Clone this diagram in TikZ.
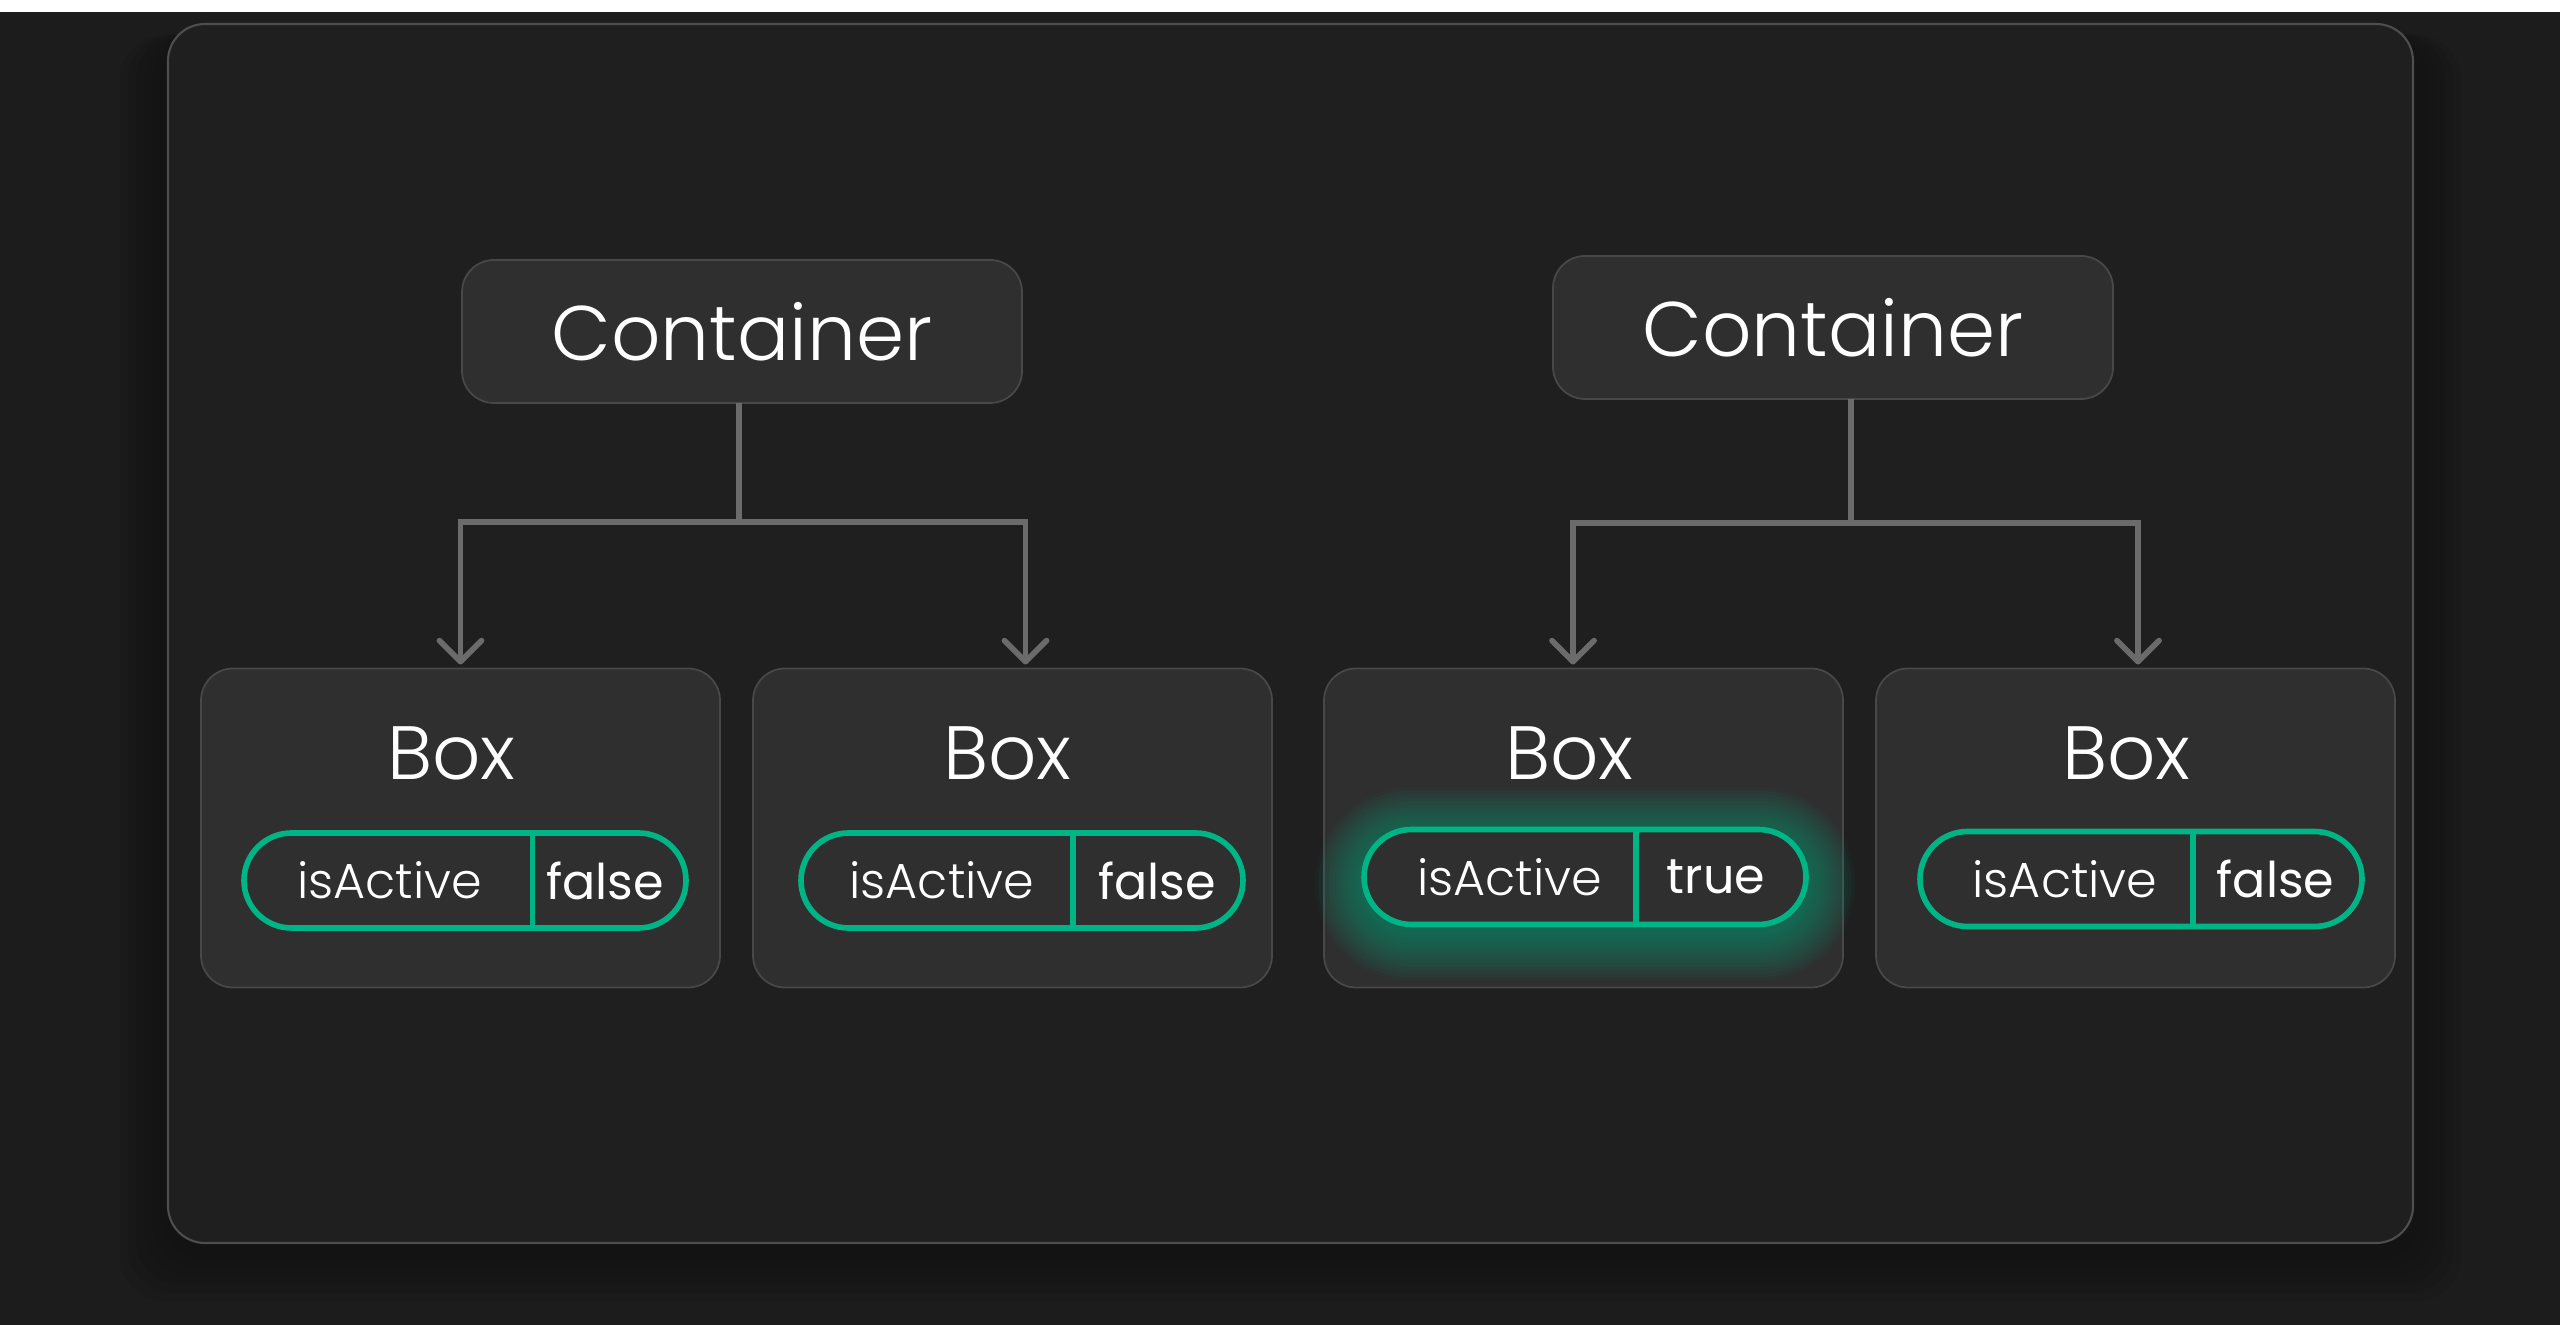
\documentclass[tikz,border=0pt]{standalone}
\usepackage{fontspec}
\setmainfont{Poppins Light}
\newfontfamily\valfont{Poppins}
\usetikzlibrary{shapes.misc, arrows.meta, positioning}
\definecolor{canvasbg}{HTML}{1C1C1C}
\definecolor{panelfill}{HTML}{1F1F1F}
\definecolor{panelline}{HTML}{4E4E4E}
\definecolor{cardfill}{HTML}{2F2F2F}
\definecolor{cardline}{HTML}{484848}
\definecolor{linkgray}{HTML}{6B6B6B}
\definecolor{activegreen}{HTML}{00B585}
\tikzset{
  panel/.style={draw=panelline, fill=panelfill, line width=0.6pt, rounded corners=0.37cm},
  container/.style={rectangle, rounded corners=0.32cm, draw=cardline, fill=cardfill,
                    line width=0.5pt, minimum width=5.6cm, minimum height=1.43cm,
                    outer sep=0pt, text=white, font=\fontsize{22}{26}\selectfont},
  boxcard/.style={rectangle, rounded corners=0.32cm, draw=cardline, fill=cardfill,
                  line width=0.5pt, minimum width=5.19cm, minimum height=3.19cm,
                  outer sep=0pt},
  boxtitle/.style={inner sep=0pt, text=white, font=\fontsize{21.5}{26}\selectfont},
  pill/.style={rounded rectangle, draw=activegreen, fill=cardfill, line width=1.6pt,
               minimum width=4.42cm, minimum height=0.95cm, inner sep=0pt, outer sep=0pt},
  divider/.style={draw=activegreen, line width=1.6pt},
  keytext/.style={inner sep=0pt, text=white, font=\fontsize{14}{17}\selectfont},
  valtext/.style={inner sep=0pt, text=white, font=\valfont\fontsize{14}{17}\selectfont},
  link/.style={draw=linkgray, line width=1.6pt,
               -{Straight Barb[length=6pt, width=12pt, round]}, shorten >=0.04cm},
}
\begin{document}
\begin{tikzpicture}

  % Canvas and panel
  \useasboundingbox (0,0) rectangle (25.6,13.25);
  \fill[white] (0,0) rectangle (25.6,13.25);
  \fill[canvasbg] (0,0) rectangle (25.6,13.13);
  \foreach \s in {0.08,0.16,...,0.56}
    \fill[black, opacity=0.045, rounded corners=0.45cm] (1.68-\s,0.72-\s) rectangle (24.13+\s,12.9);
  \draw[panel] (1.68,0.82) rectangle (24.13,13.01);

  % Containers
  \node[container] (c1) at (7.42,9.935) {Container};
  \node[container] (c2) at (18.33,9.975) {Container};

  % Boxes
  \node[boxcard] (b1) at (4.605,4.97) {};
  \node[boxcard, right=0.33cm of b1] (b2) {};
  \node[boxcard, right=0.52cm of b2] (b3) {};
  \node[boxcard, right=0.33cm of b3] (b4) {};

  \node[boxtitle] (t1) at ([xshift=-0.09cm, yshift=0.75cm]b1.center) {Box};
  \node[boxtitle] (t2) at ([xshift=-0.05cm, yshift=0.75cm]b2.center) {Box};
  \node[boxtitle] (t3) at ([xshift=-0.14cm, yshift=0.75cm]b3.center) {Box};
  \node[boxtitle] (t4) at ([xshift=-0.09cm, yshift=0.75cm]b4.center) {Box};

  % State pills
  \node[pill, anchor=west] (p1) at ([xshift=0.43cm, yshift=-0.525cm]b1.west) {};
  \draw[divider] ([xshift=0.675cm]p1.north) -- ([xshift=0.675cm]p1.south);
  \node[keytext] (k1) at ([xshift=-0.755cm]p1.center) {isActive};
  \node[valtext] (v1) at ([xshift=1.40cm]p1.center) {false};

  \node[pill, anchor=west] (p2) at ([xshift=0.48cm, yshift=-0.525cm]b2.west) {};
  \draw[divider] ([xshift=0.51cm]p2.north) -- ([xshift=0.51cm]p2.south);
  \node[keytext] (k2) at ([xshift=-0.80cm]p2.center) {isActive};
  \node[valtext] (v2) at ([xshift=1.35cm]p2.center) {false};

  % active one glows
  \coordinate (g3) at ([xshift=0.40cm, yshift=-0.49cm]b3.west);
  \foreach \w in {2,4,...,28}
    \draw[activegreen, draw opacity=0.045, line width=\w pt, line join=round, rounded corners=0.47cm]
      ([yshift=-0.07cm]g3) ++(0,0.475) rectangle ++(4.42,-0.95);
  \node[pill, anchor=west] (p3) at (g3) {};
  \draw[divider] ([xshift=0.51cm]p3.north) -- ([xshift=0.51cm]p3.south);
  \node[keytext] (k3) at ([xshift=-0.755cm]p3.center) {isActive};
  \node[valtext] (v3) at ([xshift=1.31cm]p3.center) {true};

  \node[pill, anchor=west] (p4) at ([xshift=0.44cm, yshift=-0.51cm]b4.west) {};
  \draw[divider] ([xshift=0.52cm]p4.north) -- ([xshift=0.52cm]p4.south);
  \node[keytext] (k4) at ([xshift=-0.76cm]p4.center) {isActive};
  \node[valtext] (v4) at ([xshift=1.345cm]p4.center) {false};

  % Links
  \draw[link] ([xshift=-0.03cm]c1.south) -- ++(0,-1.19) -| (b1.north);
  \draw[link] ([xshift=-0.03cm]c1.south) -- ++(0,-1.19) -| ([xshift=0.13cm]b2.north);
  \draw[link] ([xshift=0.18cm]c2.south) -- ++(0,-1.24) -| ([xshift=-0.105cm]b3.north);
  \draw[link] ([xshift=0.18cm]c2.south) -- ++(0,-1.24) -| ([xshift=0.025cm]b4.north);

\end{tikzpicture}
\end{document}
